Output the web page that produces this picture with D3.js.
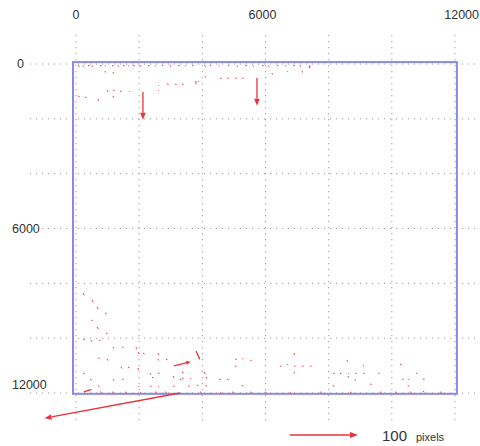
<!DOCTYPE html>
<html lang="en">
<head>
  <meta charset="UTF-8">
  <title>D3 displacement vectors</title>
  <style>
    body { margin: 0; background: #fff; font-family: "Liberation Sans", Arial, sans-serif; }
    svg  { display: block; }
    .grid { stroke: #999; stroke-width: 1; stroke-dasharray: 1.2,4.8; fill: none; }
    .frame { fill: none; stroke: #8a8ae6; stroke-width: 2; }
    .lbl { fill: #333; font-size: 12.5px; }
    .vec { stroke: #e8323c; fill: none; }
    .head { fill: #e8323c; stroke: none; }
  </style>
</head>
<body>
<svg id="chart" width="480" height="446"></svg>
<script src="https://d3js.org/d3.v7.min.js"></script>
<script>
/* ---------- data (image coords, vectors in pixels) ---------- */
const xTicks = [0, 2000, 4000, 6000, 8000, 10000, 12000];
const yTicks = [0, 2000, 4000, 6000, 8000, 10000, 12000];
const xLabels = [0, 6000, 12000];
const yLabels = [0, 6000, 12000];

// [x, y, u, v]
const majorVectors = [
  [2120, 1020, 0, 41],
  [5730, 510, 0, 41],
  [3290, 12000, -199, 37],
  [3100, 11010, 25, -6],
  [3800, 10470, 6, 13],
  [250, 11960, 12, -4]
];

const topEdge = [
  [63, 50, 3, 2], [222, 50, 2, 3], [380, 50, 3, 1], [507, 50, 1, 3], [760, 50, 3, 1],
  [918, 50, 2, 2], [1140, 50, 3, 1], [1330, 50, 1, 3], [1490, 50, 3, 1], [1650, 50, 2, 2],
  [1810, 50, 3, 1], [2030, 50, 2, 3], [2280, 50, 3, 1], [2500, 50, 2, 2], [2720, 50, 3, 1],
  [2980, 50, 1, 3], [3230, 50, 3, 1], [3450, 50, 2, 2], [3670, 50, 3, 1], [4080, 50, 2, 3],
  [4240, 50, 3, 1], [4500, 50, 2, 2], [4810, 50, 3, 1], [5100, 50, 1, 3], [5350, 50, 3, 1],
  [5600, 50, 2, 2], [5890, 50, 3, 1], [6080, 50, 2, 3], [6360, 50, 3, 1], [6620, 50, 2, 2],
  [6870, 50, 3, 1], [7090, 50, 1, 3], [7410, 50, -2, 4]
];

const topBand = [
  [918, 255, 1, 3], [1171, 292, 1, 3], [2596, 766, 2, 2], [2881, 729, 3, 1], [3134, 729, 3, 1],
  [3356, 729, 3, 1], [3799, 620, 0, 6], [981, 948, 2, 3], [1171, 948, 3, 1], [1393, 985, 3, 1],
  [1678, 985, 2, 2], [2596, 948, 2, 2], [63, 1167, 3, 1], [285, 1204, 3, 1], [697, 1276, 1, 4],
  [1171, 1167, 1, 3], [7408, 73, -1, 4], [7155, 255, 1, 3], [6680, 255, 2, 2], [6205, 328, 1, 3],
  [4084, 438, 1, 3], [4559, 511, 3, 1], [4781, 511, 3, 1], [5034, 511, 3, 1], [5256, 511, 3, 1],
  [3863, 620, 2, 2]
];

const bottomBand = [
  [222, 8350, 2, 4], [507, 8610, 2, 4], [665, 8860, 2, 4], [918, 9080, 3, 2], [475, 9340, 3, 1],
  [665, 9590, 2, 4], [950, 9810, 3, 2], [222, 10030, 3, 2], [475, 10070, 2, 3], [728, 10070, 3, 1],
  [1171, 10320, 2, 3], [1456, 10320, 3, 1], [1900, 10320, 1, 4], [1963, 10500, 2, 3], [2121, 10540, 3, 2],
  [2596, 10540, 2, 4], [2596, 10760, 1, 3], [2849, 10760, 3, 2], [697, 10720, 3, 1], [981, 10760, 2, 3],
  [1425, 11050, 2, 3], [1646, 11050, 3, 2], [1963, 11090, 1, 4], [222, 11270, 3, 2], [443, 11490, 3, 2],
  [1171, 11490, 2, 3], [1456, 11490, 3, 1], [2343, 11270, 2, 3], [2406, 11420, 3, 2], [2596, 11270, 3, 1],
  [3071, 11380, 2, 4], [3071, 11740, 3, 1], [3293, 11490, 3, 2], [3546, 11740, 3, 1], [697, 11740, 3, 1],
  [1963, 11740, 2, 2], [2343, 11740, 3, 1], [2596, 11740, 2, 2], [3356, 11230, 3, 2], [3609, 11450, 2, 2],
  [3356, 11450, 3, 1], [3831, 11710, 3, 1], [4052, 11230, 2, 4], [4116, 11420, 2, 3], [4116, 11710, 1, 3],
  [4527, 11490, 3, 1], [4781, 11490, 3, 2], [5034, 10760, 3, 1], [5256, 10720, 2, 2], [5509, 10800, 3, 1],
  [5034, 11010, 3, 2], [5256, 11710, 2, 3], [6459, 11010, 3, 1], [6680, 10940, 2, 2], [6902, 10540, 1, 4],
  [6902, 11010, 3, 1], [6902, 11230, 1, 3], [7155, 11010, 3, 1], [7408, 11010, 3, 1], [8137, 11270, 3, 1],
  [8358, 11270, 3, 2], [8580, 10800, 1, 3], [8612, 11270, 2, 2], [8612, 11380, 1, 3], [8833, 11270, 3, 1],
  [9086, 10980, 2, 2], [9086, 11270, 3, 1], [8833, 11490, 1, 3], [9308, 11670, 3, 1], [9561, 11270, 3, 1],
  [8137, 11710, 2, 3], [10258, 10940, 3, 2], [10321, 11490, 3, 1], [10511, 11490, 2, 2], [10511, 11710, 1, 3],
  [10764, 11270, 3, 1], [10986, 11490, 3, 1], [10986, 11930, 3, 2],
  [760, 11960, 3, 1], [1140, 11960, 3, 1], [1551, 11960, 3, 1], [2026, 11960, 2, 2], [2501, 11960, 3, 1],
  [2818, 11960, 3, 1], [3926, 11960, 3, 1], [4559, 11960, 2, 2], [4939, 11960, 3, 1], [5509, 11960, 3, 1],
  [5984, 11960, 3, 1], [6775, 11960, 2, 2], [7725, 11960, 3, 1], [8675, 11960, 3, 2], [9625, 11960, 3, 1],
  [10100, 11960, 3, 1], [10574, 11960, 3, 1], [11524, 11960, 3, 1]
];

const legendLength = 100;
const legendUnit = "pixels";

/* ---------- layout ---------- */
const svg = d3.select('#chart');
const x = d3.scaleLinear().domain([0, 12000]).range([76, 455]);
const y = d3.scaleLinear().domain([0, 12000]).range([64, 393]);
const vs = d3.scaleLinear().domain([0, 100]).range([0, 68]);   // vector length
const gridLeft = 30, gridRight = 475, gridTop = 35, gridBottom = 423;

// grid
svg.append('g').selectAll('line.v')
  .data(xTicks).enter().append('line')
  .attr('class', 'grid')
  .attr('x1', d => x(d)).attr('x2', d => x(d))
  .attr('y1', gridTop).attr('y2', gridBottom);

svg.append('g').selectAll('line.h')
  .data(yTicks).enter().append('line')
  .attr('class', 'grid')
  .attr('x1', gridLeft).attr('x2', gridRight)
  .attr('y1', d => y(d)).attr('y2', d => y(d));

// frame (image bounds)
svg.append('rect')
  .attr('class', 'frame')
  .attr('x', x(-95)).attr('y', y(-70))
  .attr('width', x(12060) - x(-95))
  .attr('height', y(12030) - y(-70));

// labels
svg.append('g').selectAll('text')
  .data(xLabels).enter().append('text')
  .attr('class', 'lbl')
  .attr('x', (d, i) => i === xLabels.length - 1 ? 479 : x(d) - (i ? 3 : 0))
  .attr('y', 19)
  .attr('text-anchor', (d, i) => i === xLabels.length - 1 ? 'end' : 'middle')
  .text(d => d);

svg.append('g').selectAll('text')
  .data(yLabels).enter().append('text')
  .attr('class', 'lbl')
  .attr('x', (d, i) => i ? 12 : 17)
  .attr('y', d => Math.min(y(d), 385) + 4)
  .attr('fill', '#333')
  .style('paint-order', 'stroke')
  .style('stroke', '#fff').style('stroke-width', 3)
  .text(d => d);

// vectors
function drawVector(g, d, w) {
  const x0 = x(d[0]), y0 = y(d[1]);
  const dx = vs(d[2]), dy = vs(d[3]);
  const len = Math.hypot(dx, dy);
  const x1 = x0 + dx, y1 = y0 + dy;
  const ux = dx / len, uy = dy / len;
  const h = Math.max(1.2, Math.min(7, len * 0.28));
  const hw = h * 0.4;
  const bx = x1 - ux * h, by = y1 - uy * h;
  g.append('line').attr('class', 'vec')
    .attr('stroke-width', w)
    .attr('x1', x0).attr('y1', y0).attr('x2', bx).attr('y2', by);
  g.append('path').attr('class', 'head')
    .attr('d', `M${x1},${y1}L${bx - uy * hw},${by + ux * hw}L${bx + uy * hw},${by - ux * hw}Z`);
}

const gv = svg.append('g');
topEdge.concat(topBand, bottomBand).forEach(d => drawVector(gv, d, 1));
majorVectors.forEach(d => drawVector(gv, d, 1.3));

// legend
const lg = svg.append('g');
const lx = 290, ly = 435;
lg.append('line').attr('class', 'vec').attr('stroke-width', 1.3)
  .attr('x1', lx).attr('y1', ly).attr('x2', lx + vs(legendLength) - 7).attr('y2', ly);
lg.append('path').attr('class', 'head')
  .attr('d', `M${lx + vs(legendLength)},${ly}L${lx + vs(legendLength) - 8},${ly - 3}L${lx + vs(legendLength) - 8},${ly + 3}Z`);
lg.append('text').attr('x', 382).attr('y', 441)
  .attr('fill', '#333').style('font-size', '15px').text(legendLength);
lg.append('text').attr('x', 416).attr('y', 441)
  .attr('fill', '#333').style('font-size', '11px').text(legendUnit);
</script>
</body>
</html>
